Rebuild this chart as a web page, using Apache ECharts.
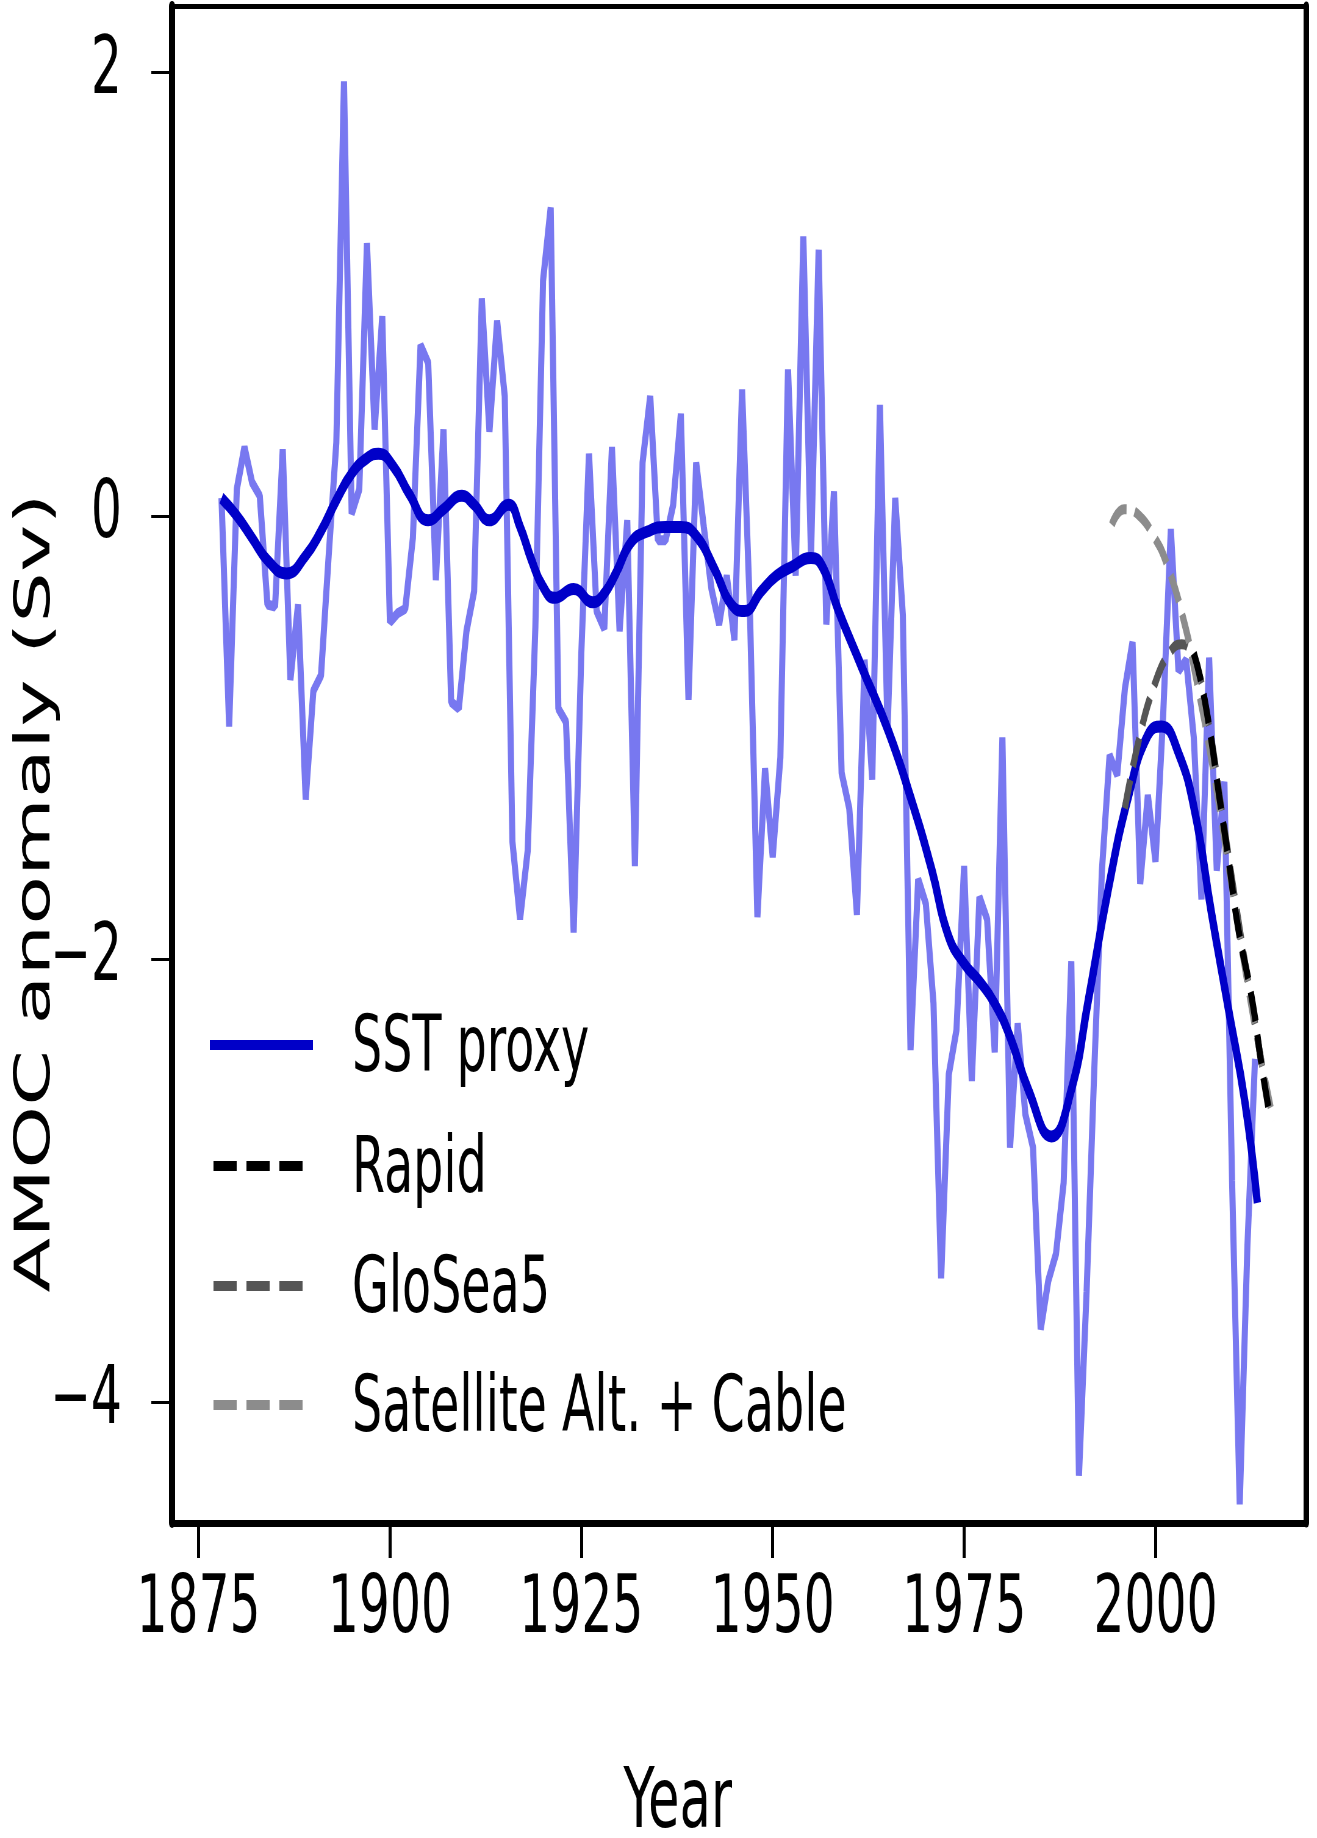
<!DOCTYPE html>
<html><head><meta charset="utf-8">
<script src="https://cdn.jsdelivr.net/npm/echarts@6/dist/echarts.min.js"></script>
<style>
html,body{margin:0;padding:0;background:#fff;overflow:hidden;width:1317px;height:1838px;}
#wrap{width:1317px;height:1838px;overflow:hidden;position:relative;background:#fff;}
#chart{width:2159px;height:1838px;transform:scaleX(0.61);transform-origin:0 0;position:absolute;left:0;top:0;}
</style></head><body>
<div id="wrap"><div id="chart"></div></div>
<script>
// ---- data ----
const sstFirstYear = 1878;
const sstAnnual = [
 0.08,-0.95,0.12,0.31,0.15,0.09,-0.40,-0.41,0.30,-0.74,
 -0.40,-1.28,-0.79,-0.72,-0.18,0.33,1.96,0.01,0.12,1.23,
 0.39,0.90,-0.48,-0.44,-0.42,-0.10,0.77,0.69,-0.29,0.39,
 -0.84,-0.87,-0.52,-0.34,0.98,0.38,0.88,0.54,-1.47,-1.82,
 -1.51,-0.50,1.06,1.39,-0.87,-0.93,-1.88,-0.62,0.28,-0.43,
 -0.51,0.31,-0.52,-0.02,-1.58,0.24,0.54,-0.11,-0.11,0.05,
 0.46,-0.83,0.24,-0.05,-0.33,-0.49,-0.27,-0.56,0.57,-0.40,
 -1.81,-1.14,-1.54,-1.09,0.66,-0.27,1.26,-0.18,1.20,-0.49,
 0.11,-1.16,-1.32,-1.80,-0.65,-1.19,0.50,-0.97,0.08,-0.45,
 -2.41,-1.64,-1.75,-2.20,-3.44,-2.52,-2.32,-1.58,-2.55,-1.72,
 -1.82,-2.42,-1.00,-2.85,-2.29,-2.70,-2.85,-3.67,-3.45,-3.33,
 -3.01,-2.01,-4.33,-3.50,-2.50,-1.60,-1.08,-1.17,-0.78,-0.57,
 -1.66,-1.26,-1.56,-0.90,-0.06,-0.70,-0.65,-1.00,-1.73,-0.64,
 -1.60,-1.20,-3.00,-4.46,-3.30,-2.45
];
const smoothYears = [1878,1880,1882,1884,1886.5,1889,1891,1893,1895,1897,1898.5,1900.5,1902.5,1905,1907,1909.4,1911,1913,1915.5,1917,1918.5,1920,1921.5,1924,1926.5,1928,1929.5,1931.5,1933.7,1936,1938,1940,1942.4,1944.6,1946.3,1948.5,1950.5,1952.5,1955,1956.5,1958.5,1961.6,1965.1,1968.1,1970.8,1972.9,1975,1977,1979,1981,1983.4,1986.4,1989,1991.2,1993.8,1996.5,1999,2000.8,2003,2005.1,2007.3,2009.5,2011.7,2013.3];
const smoothValues = [0.08,0.0,-0.10,-0.20,-0.26,-0.18,-0.07,0.07,0.19,0.26,0.28,0.22,0.10,-0.02,0.03,0.09,0.05,-0.02,0.05,-0.05,-0.20,-0.32,-0.37,-0.33,-0.39,-0.35,-0.26,-0.12,-0.07,-0.05,-0.05,-0.09,-0.24,-0.40,-0.43,-0.34,-0.27,-0.23,-0.19,-0.23,-0.42,-0.68,-0.97,-1.28,-1.60,-1.89,-2.02,-2.10,-2.20,-2.35,-2.59,-2.80,-2.59,-2.19,-1.69,-1.26,-0.99,-0.95,-1.07,-1.33,-1.79,-2.22,-2.65,-3.10];
const rapidYears = [2005.0,2005.9,2007.1,2008.3,2009.5,2010.8,2012.6,2013.9,2014.9];
const rapidValues = [-0.62,-0.74,-0.97,-1.26,-1.54,-1.86,-2.18,-2.49,-2.70];
const gloseaYears = [1996.0,1997.9,1999.9,2001.8,2003.4,2005.0,2006.8,2008.7,2010.8,2013.0,2014.7];
const gloseaValues = [-1.32,-1.00,-0.76,-0.62,-0.58,-0.64,-0.91,-1.34,-1.82,-2.29,-2.64];
const satYears = [1994.3,1995.9,1997.9,1999.9,2001.4,2003.6,2005.4,2007.4,2009.4,2011.4,2013.4,2015.4];
const satValues = [-0.04,0.03,0.0,-0.10,-0.21,-0.46,-0.75,-1.12,-1.55,-1.98,-2.38,-2.73];
const xTicks = [1875,1900,1925,1950,1975,2000];
const yTicks = [-4,-2,0,2];
const legendNames = ['SST proxy','Rapid','GloSea5','Satellite Alt. + Cable'];

// ---- build ----
const zip = (a,b) => a.map((v,i)=>[v,b[i]]);
const sstData = sstAnnual.map((v,i)=>[sstFirstYear+i, v]);
const FONT = 'DejaVu Sans';
const COL = {raw:'#7878f0', smooth:'#0000c8', rapid:'#000000', glosea:'#555555', sat:'#8c8c8c'};
const chart = echarts.init(document.getElementById('chart'), null, {renderer:'canvas'});
const xMin = 1871.54, xMax = 2019.66, yMin = -4.544, yMax = 2.30;

// legend drawn as graphic (virtual px; chart is squeezed horizontally by CSS)
const legendItems = [
  {name:legendNames[0], color:COL.smooth, dash:null, y:1045},
  {name:legendNames[1], color:COL.rapid, dash:[38,16], y:1166},
  {name:legendNames[2], color:COL.glosea, dash:[38,16], y:1286},
  {name:legendNames[3], color:COL.sat, dash:[38,16], y:1405}
];
const legendGraphics = [];
legendItems.forEach(it=>{
  legendGraphics.push({type:'line',silent:true,
    shape: it.dash ? {x1:350,y1:it.y,x2:496,y2:it.y} : {x1:344,y1:it.y,x2:513,y2:it.y},
    style:{stroke:it.color,lineWidth:10,lineDash:it.dash||null}});
  legendGraphics.push({type:'text',silent:true,x:577,y:it.y+6,
    style:{text:it.name,fontFamily:FONT,fontSize:78,fill:'#000',textAlign:'left',textVerticalAlign:'middle'}});
});

chart.setOption({
  animation:false,
  backgroundColor:'#fff',
  grid:{left:282,right:18,top:6,bottom:315,containLabel:false},
  xAxis:[{
    type:'value',min:xMin,max:xMax,position:'bottom',
    axisLine:{show:true,onZero:false,lineStyle:{color:'#000',width:7}},
    axisTick:{show:true,customValues:xTicks,length:35,lineStyle:{color:'#000',width:5}},
    axisLabel:{show:true,customValues:xTicks,margin:48,fontFamily:FONT,fontSize:80,color:'#000',
      formatter:v=>String(v)},
    splitLine:{show:false}
  },{
    type:'value',min:xMin,max:xMax,position:'top',
    axisLine:{show:true,onZero:false,lineStyle:{color:'#000',width:5}},
    axisTick:{show:false},axisLabel:{show:false},splitLine:{show:false}
  }],
  yAxis:[{
    type:'value',min:yMin,max:yMax,position:'left',
    axisLine:{show:true,onZero:false,lineStyle:{color:'#000',width:10}},
    axisTick:{show:true,customValues:yTicks,length:34,lineStyle:{color:'#000',width:3}},
    axisLabel:{show:true,customValues:yTicks,margin:82,fontFamily:FONT,fontSize:80,color:'#000',
      padding:[26,0,0,0],formatter:v=>String(v).replace('-','\u2212')},
    splitLine:{show:false}
  },{
    type:'value',min:yMin,max:yMax,position:'right',
    axisLine:{show:true,onZero:false,lineStyle:{color:'#000',width:9}},
    axisTick:{show:false},axisLabel:{show:false},splitLine:{show:false}
  }],
  series:[
    {name:'SST proxy annual',type:'line',data:sstData,symbol:'none',z:2,silent:true,
     lineStyle:{color:COL.raw,width:10}},
    {name:legendNames[0],type:'line',data:zip(smoothYears,smoothValues),symbol:'none',smooth:0.5,z:3,
     lineStyle:{color:COL.smooth,width:12}},
    {name:legendNames[1],type:'line',data:zip(rapidYears,rapidValues),symbol:'none',smooth:0.5,z:5,
     lineStyle:{color:COL.rapid,width:10,type:[30,14]}},
    {name:legendNames[2],type:'line',data:zip(gloseaYears,gloseaValues),symbol:'none',smooth:0.5,z:4,
     lineStyle:{color:COL.glosea,width:10,type:[30,14]}},
    {name:legendNames[3],type:'line',data:zip(satYears,satValues),symbol:'none',smooth:0.5,z:4,
     lineStyle:{color:COL.sat,width:10,type:[30,14]}}
  ],
  graphic:[
    {type:'text',x:60,y:893,rotation:Math.PI/2,silent:true,
     style:{text:'AMOC anomaly (Sv)',fontFamily:FONT,fontSize:80,fill:'#000',textAlign:'center',textVerticalAlign:'middle'}},
    {type:'text',x:1111,y:1805,silent:true,
     style:{text:'Year',fontFamily:FONT,fontSize:84,fill:'#000',textAlign:'center',textVerticalAlign:'middle'}}
  ].concat(legendGraphics)
});
</script>
</body></html>
